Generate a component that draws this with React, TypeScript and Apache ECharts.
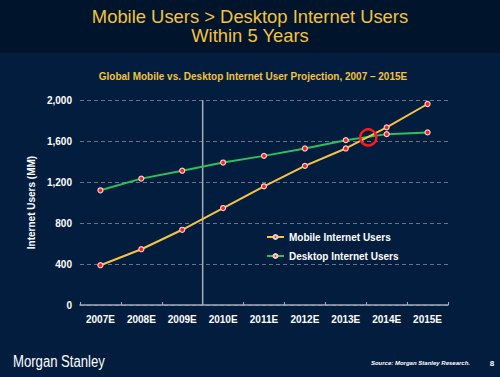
import React, { useEffect, useRef } from "react";
import * as echarts from "echarts";

const categories = ["2007E", "2008E", "2009E", "2010E", "2011E", "2012E", "2013E", "2014E", "2015E"];
const mobileUsers = [388, 544, 734, 946, 1158, 1357, 1527, 1733, 1961];
const desktopUsers = [1119, 1233, 1310, 1390, 1455, 1527, 1608, 1667, 1684];
const yTicks = { min: 0, max: 2000, interval: 400 };
const crossover = { index: 6.55, value: 1635 };
const dividerAfterIndex = 2;

const FONT = "'Liberation Sans', Arial, sans-serif";

export default function App() {
  const ref = useRef<HTMLDivElement>(null);
  useEffect(() => {
    if (!ref.current) return;
    const chart = echarts.init(ref.current, undefined, { renderer: "svg" });
    const marker = {
      symbol: "circle",
      symbolSize: 5,
      itemStyle: { color: "#ff1c1c", borderColor: "#f7d0d0", borderWidth: 1.2 },
    };
    chart.setOption({
      animation: false,
      backgroundColor: "#031d3e",
      textStyle: { fontFamily: FONT },
      grid: { left: 80, right: 52, top: 100, bottom: 72, containLabel: false },
      legend: {
        orient: "vertical",
        left: 261,
        top: 227,
        itemWidth: 17,
        itemHeight: 5,
        itemGap: 9,
        textStyle: { color: "#ffffff", fontWeight: "bold", fontSize: 10, fontFamily: FONT },
        data: ["Mobile Internet Users", "Desktop Internet Users"],
      },
      xAxis: {
        type: "category",
        data: categories,
        boundaryGap: true,
        axisLine: { lineStyle: { color: "#a4acba", width: 1.5 } },
        axisTick: { show: true, inside: true, length: 3, lineStyle: { color: "#a4acba" } },
        axisLabel: { color: "#ffffff", fontWeight: "bold", fontSize: 10, margin: 9, interval: 0, fontFamily: FONT },
        splitLine: { show: false },
      },
      yAxis: {
        type: "value",
        min: yTicks.min,
        max: yTicks.max,
        interval: yTicks.interval,
        name: "Internet Users (MM)",
        nameLocation: "middle",
        nameGap: 34,
        nameTextStyle: { color: "#ffffff", fontWeight: "bold", fontSize: 10, fontFamily: FONT },
        axisLine: { show: false },
        axisTick: { show: false },
        axisLabel: {
          color: "#ffffff",
          fontWeight: "bold",
          fontSize: 10,
          margin: 8,
          fontFamily: FONT,
          formatter: (v: number) => v.toLocaleString("en-US"),
        },
        splitLine: { show: true, lineStyle: { color: "#66738a", type: [4, 3], width: 1 } },
      },
      series: [
        {
          name: "Mobile Internet Users",
          type: "line",
          data: mobileUsers,
          lineStyle: { color: "#f6c443", width: 2 },
          color: "#f6c443",
          ...marker,
          z: 3,
        },
        {
          name: "Desktop Internet Users",
          type: "line",
          data: desktopUsers,
          lineStyle: { color: "#2fbf5b", width: 2 },
          color: "#2fbf5b",
          ...marker,
          z: 2,
        },
      ],
      graphic: [
        { type: "rect", shape: { x: 0, y: 0, width: 500, height: 53 }, style: { fill: "#00142b" }, z: -1 },
        {
          type: "text",
          x: 250,
          y: 16,
          style: {
            text: "Mobile Users > Desktop Internet Users",
            fill: "#f3c240",
            font: `18.4px ${FONT}`,
            textAlign: "center",
            textVerticalAlign: "middle",
          },
        },
        {
          type: "text",
          x: 250,
          y: 35,
          style: {
            text: "Within 5 Years",
            fill: "#f3c240",
            font: `18.4px ${FONT}`,
            textAlign: "center",
            textVerticalAlign: "middle",
          },
        },
        {
          type: "text",
          x: 253,
          y: 76,
          style: {
            text: "Global Mobile vs. Desktop Internet User Projection, 2007 – 2015E",
            fill: "#f2c240",
            font: `bold 10px ${FONT}`,
            textAlign: "center",
            textVerticalAlign: "middle",
          },
        },
        {
          type: "text",
          x: 13,
          y: 362,
          scaleX: 0.82,
          style: {
            text: "Morgan Stanley",
            fill: "#ffffff",
            font: `16px ${FONT}`,
            textAlign: "left",
            textVerticalAlign: "middle",
          },
        },
        {
          type: "text",
          x: 470,
          y: 363,
          style: {
            text: "Source: Morgan Stanley Research.",
            fill: "#ffffff",
            font: `italic bold 6px ${FONT}`,
            textAlign: "right",
            textVerticalAlign: "middle",
          },
        },
        {
          type: "text",
          x: 492,
          y: 363,
          style: {
            text: "8",
            fill: "#ffffff",
            font: `bold 8px ${FONT}`,
            textAlign: "center",
            textVerticalAlign: "middle",
          },
        },
      ],
    });

    const pa = chart.convertToPixel({ gridIndex: 0 }, [dividerAfterIndex, yTicks.max]) as number[];
    const pb = chart.convertToPixel({ gridIndex: 0 }, [dividerAfterIndex + 1, yTicks.min]) as number[];
    const divX = (pa[0] + pb[0]) / 2;
    const i0 = Math.floor(crossover.index);
    const c0 = chart.convertToPixel({ gridIndex: 0 }, [i0, crossover.value]) as number[];
    const c1 = chart.convertToPixel({ gridIndex: 0 }, [i0 + 1, crossover.value]) as number[];
    const frac = crossover.index - i0;
    const cx = c0[0] + (c1[0] - c0[0]) * frac;
    const cy = c0[1];

    chart.setOption({
      graphic: [
        {
          type: "line",
          id: "divider",
          shape: { x1: divX, y1: pa[1], x2: divX, y2: pb[1] },
          style: { stroke: "#a4acba", lineWidth: 1.5 },
          z: 1,
        },
        {
          type: "circle",
          id: "crossCircle",
          shape: { cx, cy, r: 8 },
          style: { fill: "none", stroke: "#ff1a1a", lineWidth: 2.5 },
          z: 10,
        },
      ],
    });

    return () => chart.dispose();
  }, []);
  return (
    <div
      ref={ref}
      style={{ position: "fixed", left: 0, top: 0, width: 500, height: 377 }}
    />
  );
}
